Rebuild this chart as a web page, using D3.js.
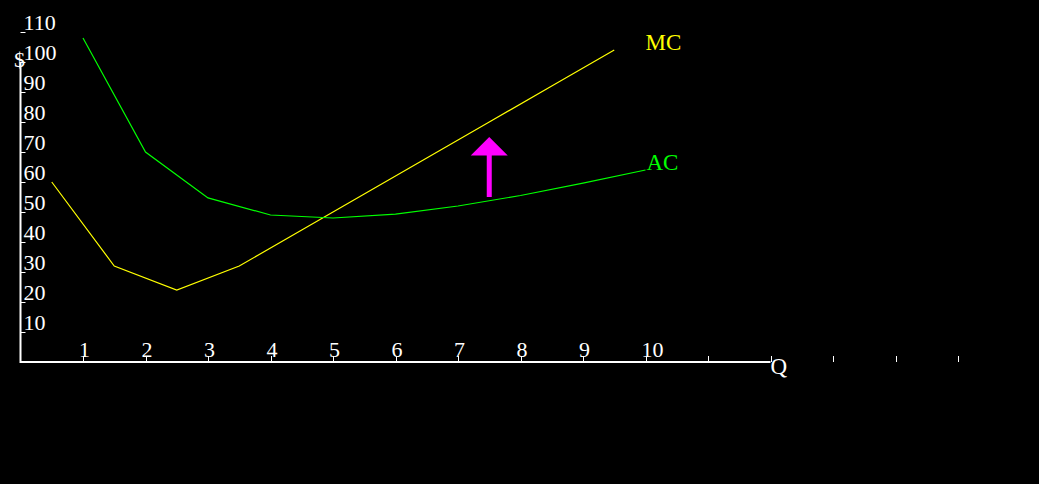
<!DOCTYPE html>
<html>
<head>
<meta charset="utf-8">
<script src="https://cdnjs.cloudflare.com/ajax/libs/d3/7.8.5/d3.min.js"></script>
<style>
  html, body { margin: 0; padding: 0; background: #000; }
  svg { display: block; }
  text { font-family: "Liberation Serif", "DejaVu Serif", serif; fill: #fff; }
</style>
</head>
<body>
<script>
// chart data
var mcQ = [0.5, 1.5, 2.5, 3.5, 4.5, 5.5, 6.5, 7.5, 8.5, 9.5];
var mcValues = [60, 32, 24, 32, 44, 56, 68, 80, 92, 104];
var acQ = [1, 2, 3, 4, 5, 6, 7, 8, 9, 10];
var acValues = [108, 70, 54.7, 49, 48, 49.3, 52, 55.5, 59.6, 64];
var xTickLabels = [1, 2, 3, 4, 5, 6, 7, 8, 9, 10];
var xTicks = [1, 2, 3, 4, 5, 6, 7, 8, 9, 10, 11, 12];
var xExtraTicks = [13, 14, 15];
var yTickLabels = [10, 20, 30, 40, 50, 60, 70, 80, 90, 100, 110];
var arrowQ = 7.5, arrowFrom = 55, arrowTo = 75;

var width = 1039, height = 484;

var svg = d3.select("body").append("svg")
    .attr("width", width)
    .attr("height", height);

var x = d3.scaleLinear().domain([0, 12]).range([20.5, 770.5]);
var y = d3.scaleLinear().domain([0, 110]).range([362, 32]);

var white = "#fff";

// x axis line + ticks
svg.append("line")
    .attr("x1", x(0)).attr("x2", x(12))
    .attr("y1", y(0)).attr("y2", y(0))
    .attr("stroke", white).attr("stroke-width", 2);

svg.selectAll(".xtick")
    .data(xTicks.concat(xExtraTicks))
    .enter().append("line")
    .attr("class", "xtick")
    .attr("x1", function (d) { return Math.round(x(d)) + 0.5; })
    .attr("x2", function (d) { return Math.round(x(d)) + 0.5; })
    .attr("y1", y(0))
    .attr("y2", y(0) - 6)
    .attr("stroke", white);

svg.selectAll(".xlabel")
    .data(xTickLabels)
    .enter().append("text")
    .attr("class", "xlabel")
    .attr("x", function (d) { return x(d) - 4; })
    .attr("y", y(0) - 5)
    .style("font-size", "22px")
    .text(function (d) { return d; });

// y axis line + ticks
svg.append("line")
    .attr("x1", x(0)).attr("x2", x(0))
    .attr("y1", y(100)).attr("y2", y(0) + 1)
    .attr("stroke", white).attr("stroke-width", 2);

svg.selectAll(".ytick")
    .data(yTickLabels)
    .enter().append("line")
    .attr("class", "ytick")
    .attr("x1", x(0))
    .attr("x2", x(0) + 5)
    .attr("y1", function (d) { return Math.round(y(d)) + 0.5; })
    .attr("y2", function (d) { return Math.round(y(d)) + 0.5; })
    .attr("stroke", white);

svg.selectAll(".ylabel")
    .data(yTickLabels)
    .enter().append("text")
    .attr("class", "ylabel")
    .attr("x", x(0) + 3)
    .attr("y", function (d) { return y(d) - 2; })
    .style("font-size", "22px")
    .text(function (d) { return d; });

svg.append("text")
    .attr("x", 14).attr("y", 67)
    .style("font-size", "22px")
    .text("$");

svg.append("text")
    .attr("x", x(12)).attr("y", 374)
    .style("font-size", "23px")
    .text("Q");

// curves
var line = d3.line()
    .x(function (d) { return x(d[0]); })
    .y(function (d) { return y(d[1]); });

svg.append("path")
    .datum(d3.zip(mcQ, mcValues))
    .attr("d", line)
    .attr("fill", "none")
    .attr("stroke", "#ffff00")
    .attr("stroke-width", 1.2);

svg.append("path")
    .datum(d3.zip(acQ, acValues))
    .attr("d", line)
    .attr("fill", "none")
    .attr("stroke", "#00ff00")
    .attr("stroke-width", 1.2);

svg.append("text")
    .attr("x", x(10)).attr("y", 50)
    .style("font-size", "23px")
    .style("fill", "#ffff00")
    .text("MC");

svg.append("text")
    .attr("x", x(10) + 1).attr("y", 170)
    .style("font-size", "23px")
    .style("fill", "#00ff00")
    .text("AC");

// shift arrow
var ax = x(arrowQ), headY = y(arrowTo);
svg.append("rect")
    .attr("x", ax - 2.5).attr("width", 5)
    .attr("y", headY + 17).attr("height", y(arrowFrom) - headY - 17)
    .attr("fill", "#ff00ff");
svg.append("path")
    .attr("d", "M" + ax + "," + headY + "L" + (ax + 18.5) + "," + (headY + 18.5) + "L" + (ax - 18.5) + "," + (headY + 18.5) + "Z")
    .attr("fill", "#ff00ff");
</script>
</body>
</html>
